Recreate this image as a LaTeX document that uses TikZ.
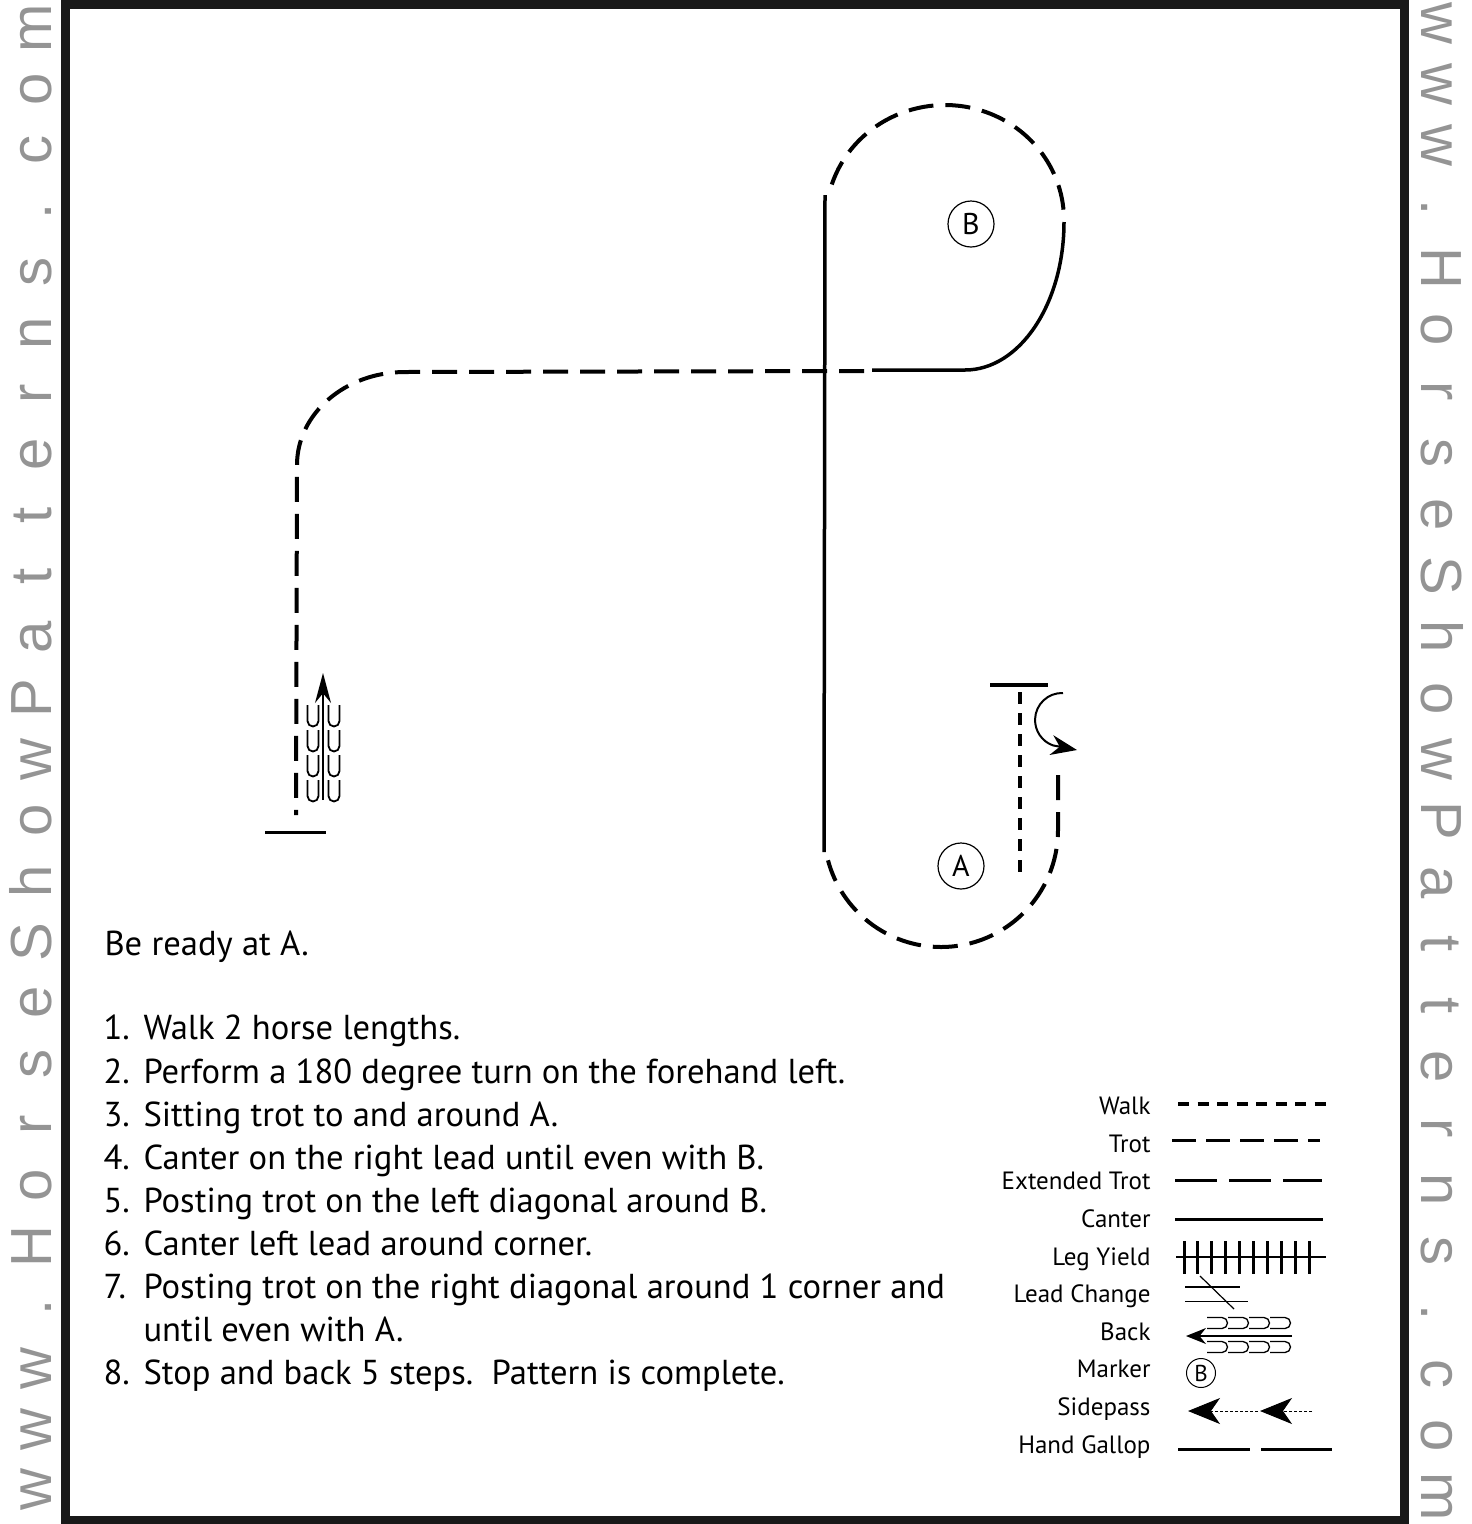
\documentclass[tikz,border=0pt]{standalone}
\usepackage{fontspec}
\setmainfont{PT Sans}
\newfontfamily\wmfont{Liberation Sans}
\usetikzlibrary{arrows.meta}
\begin{document}
\begin{tikzpicture}[x=1pt,y=1pt,
    walk/.style={line width=4pt, dash pattern=on 12pt off 9pt},
    trot/.style={line width=4pt, dash pattern=on 25pt off 12pt},
    canter/.style={line width=3.5pt},
    marker/.style={circle, draw, line width=1.2pt, minimum size=46pt, inner sep=0pt, font=\fontsize{30}{30}\selectfont},
    steptext/.style={anchor=base west, font=\fontsize{34.6}{35}\selectfont},
    legtext/.style={anchor=base east, font=\fontsize{25}{25}\selectfont},
    wm/.style={anchor=base, text=black!42, font=\wmfont\fontsize{58}{58}\selectfont}]
    \useasboundingbox (0,0) rectangle (1472,-1524);
    \draw[line width=9pt, black!90] (65.5,-4) rectangle (1404.5,-1520);
    \foreach \c [count=\i] in {w,w,w,.,H,o,r,s,e,S,h,o,w,P,a,t,t,e,r,n,s,.,c,o,m}
        {
            \node[wm, rotate=90] (wmL\i) at (51, {-1490+(\i-1)*60.9}) {\c};
            \node[wm, rotate=-90] (wmR\i) at (1421, {-23-(\i-1)*61.4}) {\c};
        }

    \draw[line width=4pt] (990,-685) -- (1048,-685);
    \draw[walk] (1020,-692) -- (1020,-878);
    \draw[line width=2pt, -{Stealth[length=26pt,width=20pt]}] (1063,-693) arc[start angle=88, end angle=250, radius=27] -- (1077,-750);
    \draw[trot] (1058,-775) -- (1058,-830) arc[start angle=0, end angle=-165, radius=117];
    \draw[canter] (824,-852) -- (825,-195);
    \draw[trot] (831.8,-184.5) arc[start angle=162, end angle=2, x radius=119, y radius=115];
    \draw[canter] (1064,-222) arc[start angle=0, end angle=-90, x radius=99, y radius=148] -- (872,-370);
    \draw[trot] (864,-371) -- (405,-372) arc[start angle=90, end angle=180, x radius=108, y radius=93] -- (296,-815);
    \draw[line width=3pt] (265,-832) -- (326,-832);
    \draw[line width=1.5pt, -{Stealth[length=30pt,width=16pt]}] (323,-800) -- (323,-673);
    \foreach \x in {313,334}
        \foreach \y in {705,730,755,780}
            \draw[line width=1.8pt] (\x-5.5,-\y) -- (\x-5.5,-\y-16) arc[start angle=180, end angle=360, radius=5.5] -- (\x+5.5,-\y);

    \node[marker] (markerA) at (961,-866) {A};
    \node[marker] (markerB) at (971,-224) {B};

    \node[steptext] (intro) at (101,-955) {Be ready at A.};
    \foreach \y/\n/\t [count=\i] in {1039/1./Walk 2 horse lengths.,
        1083/2./Perform a 180 degree turn on the forehand left.,
        1126/3./Sitting trot to and around A.,
        1169/4./Canter on the right lead until even with B.,
        1212/5./Posting trot on the left diagonal around B.,
        1255/6./Canter left lead around corner.,
        1298/7./Posting trot on the right diagonal around 1 corner and,
        1341//until even with A.,
        1384/8./Stop and back 5 steps.\ \ Pattern is complete.}
        \node[steptext] (step\i) at (100,-\y) {\makebox[40pt][l]{\n}\t};

    \foreach \y/\t [count=\i] in {1114/Walk, 1152/Trot, 1189/Extended Trot, 1227/Canter, 1265/Leg Yield,
        1302/Lead Change, 1340/Back, 1377/Marker, 1415/Sidepass, 1453/Hand Gallop}
        \node[legtext] (legend\i) at (1154,-\y) {\t};

    \draw[line width=4pt, dash pattern=on 11pt off 8.5pt] (1178,-1104) -- (1330,-1104);
    \draw[line width=3pt, dash pattern=on 24pt off 10pt] (1172,-1140) -- (1320,-1140);
    \draw[line width=3pt, dash pattern=on 42pt off 12pt] (1175,-1180) -- (1322,-1180);
    \draw[line width=3pt] (1175,-1219) -- (1323,-1219);
    \draw[line width=2.5pt] (1176,-1257) -- (1326,-1257);
    \foreach \k in {0,...,9}
        \draw[line width=3pt] (1184+\k*13.9,-1241) -- (1184+\k*13.9,-1274);
    \draw[line width=1.5pt] (1185,-1287) -- (1240,-1287);
    \draw[line width=1pt] (1185,-1301) -- (1248,-1301);
    \draw[line width=1.2pt] (1200,-1276) -- (1234,-1309);
    \draw[line width=1.5pt, -{Stealth[length=20pt,width=16pt]}] (1292,-1336) -- (1186,-1336);
    \foreach \x in {1207,1228,1249,1270}
        \foreach \y in {1323,1347}
            \draw[line width=1.3pt] (\x,-\y+5.5) -- (\x+15,-\y+5.5) arc[start angle=90, end angle=-90, radius=5.5] -- (\x,-\y-5.5);
    \node[circle, draw, line width=1pt, minimum size=29pt, inner sep=0pt, font=\fontsize{23}{23}\selectfont] (legendB) at (1201,-1373) {B};
    \draw[line width=1pt, dash pattern=on 3pt off 2pt, -{Stealth[length=32pt,width=26pt,inset=9pt]}] (1312,-1411) -- (1260,-1411);
    \draw[line width=1pt, dash pattern=on 3pt off 2pt, -{Stealth[length=32pt,width=26pt,inset=9pt]}] (1258,-1411) -- (1188,-1411);
    \draw[line width=3pt] (1178,-1449) -- (1250,-1449);
    \draw[line width=3pt] (1261,-1449) -- (1332,-1449);
\end{tikzpicture}
\end{document}
